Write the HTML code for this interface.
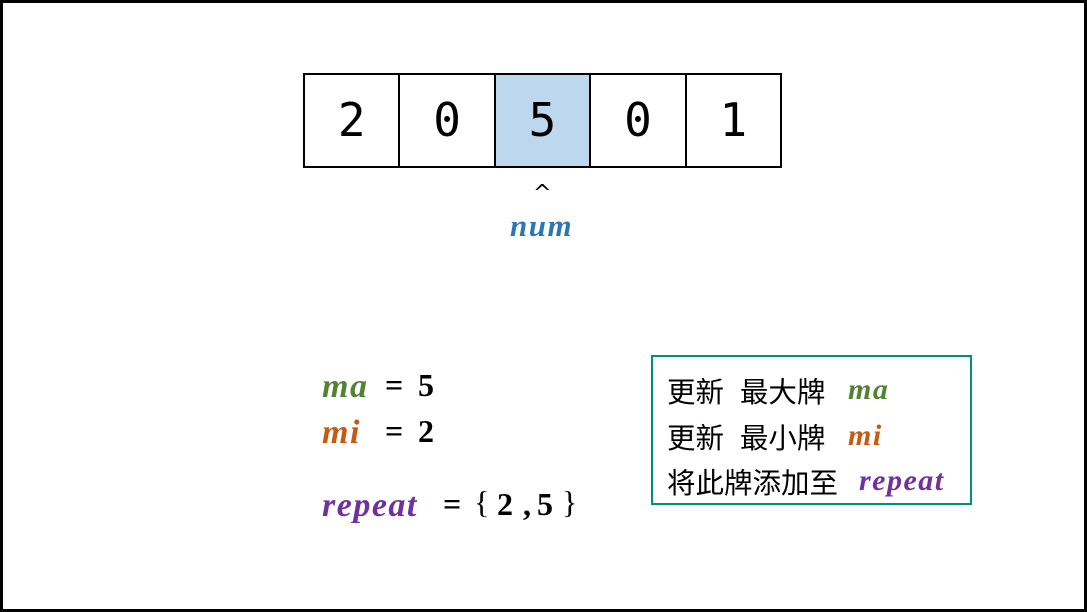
<!DOCTYPE html>
<html><head><meta charset="utf-8"><style>
body{margin:0;width:1087px;height:612px;overflow:hidden;background:#fff;}
#frame{position:absolute;left:0;top:0;width:1081px;height:606px;border:3px solid #000;}
#arr{position:absolute;left:303px;top:73px;width:479px;height:95px;border:2px solid #000;box-sizing:border-box;display:flex;}
.cell{flex:1;border-right:2px solid #000;font-family:"DejaVu Sans Mono","Liberation Mono",monospace;font-size:46px;text-align:center;line-height:91px;}
.cell:last-child{border-right:none;}
.t{position:absolute;font-family:"Liberation Serif",serif;font-style:italic;font-weight:bold;font-size:34px;letter-spacing:1.5px;white-space:nowrap;}
.n{position:absolute;font-family:"Liberation Serif",serif;font-weight:bold;font-size:32px;white-space:nowrap;color:#000;}
.cj{position:absolute;font-family:"Liberation Sans","Noto Sans CJK SC",sans-serif;font-size:28.5px;white-space:nowrap;left:667px;}
.ci{position:absolute;font-family:"Liberation Serif",serif;font-style:italic;font-weight:bold;font-size:30px;letter-spacing:1.5px;white-space:nowrap;}
</style></head><body>
<div id="frame"></div>
<div id="arr">
<div class="cell">2</div>
<div class="cell">0</div>
<div class="cell" style="background:#bdd7ee">5</div>
<div class="cell">0</div>
<div class="cell">1</div>
</div>
<div style="position:absolute;left:533px;top:181px;font-family:'DejaVu Sans',sans-serif;font-size:22px">^</div>
<div class="t" style="left:510px;top:208px;font-size:31px;color:#2e75b6">num</div>
<div class="t" style="left:322px;top:368px;color:#548235">ma</div>
<div class="n" style="left:385px;top:367px">=</div>
<div class="n" style="left:418px;top:367px">5</div>
<div class="t" style="left:322px;top:414px;color:#c55a11">mi</div>
<div class="n" style="left:385px;top:413px">=</div>
<div class="n" style="left:418px;top:413px">2</div>
<div class="t" style="left:322px;top:487px;color:#7030a0">repeat</div>
<div class="n" style="left:443px;top:486px">=</div>
<div class="n" style="left:474px;top:484px;font-weight:normal">{</div>
<div class="n" style="left:497px;top:486px">2</div>
<div class="n" style="left:523px;top:486px">,</div>
<div class="n" style="left:537px;top:486px">5</div>
<div class="n" style="left:562px;top:484px;font-weight:normal">}</div>
<div style="position:absolute;left:651px;top:355px;width:321px;height:150px;border:2px solid #00917a;box-sizing:border-box"></div>
<div class="cj" style="top:370px">更新&nbsp; 最大牌</div>
<div class="ci" style="left:848px;top:373px;color:#548235">ma</div>
<div class="cj" style="top:416px">更新&nbsp; 最小牌</div>
<div class="ci" style="left:848px;top:419px;color:#c55a11">mi</div>
<div class="cj" style="top:461px">将此牌添加至</div>
<div class="ci" style="left:859px;top:464px;color:#7030a0">repeat</div>
</body></html>
